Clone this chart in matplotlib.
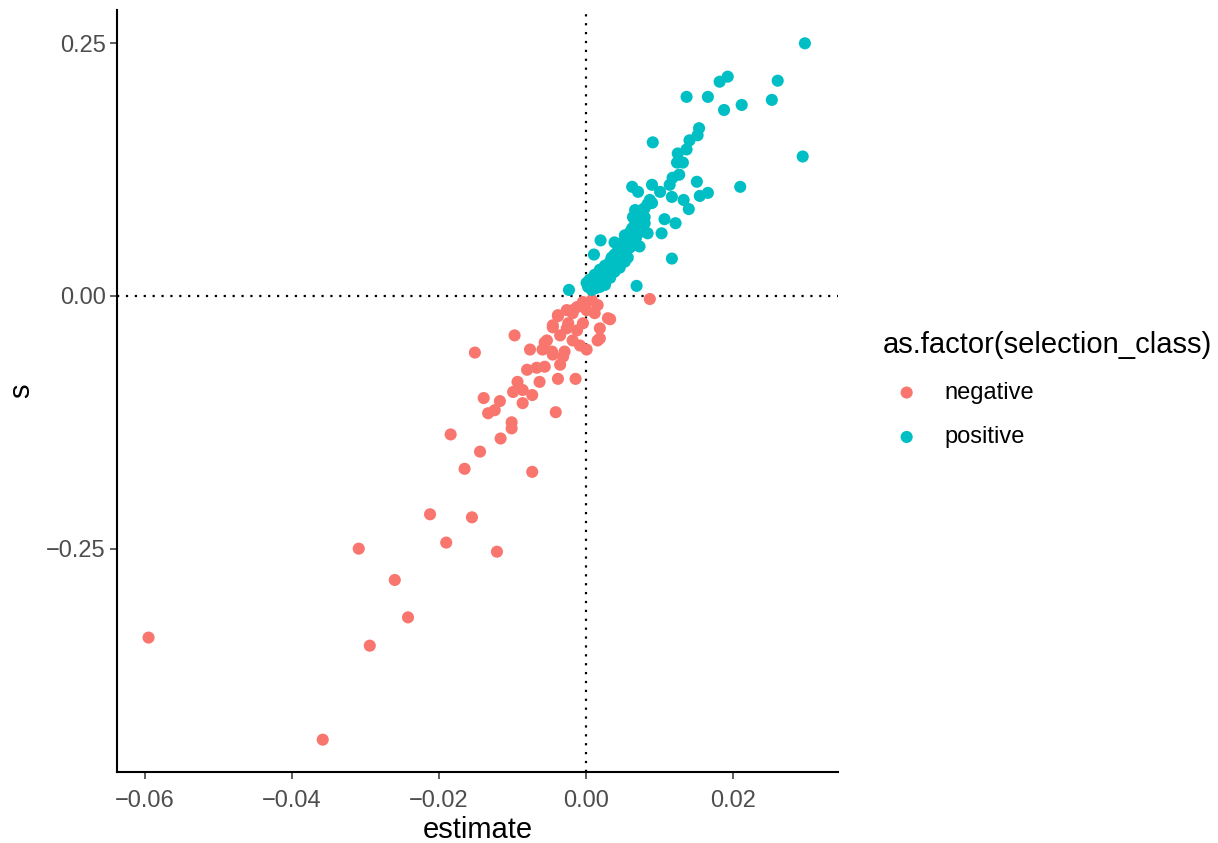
import numpy as np
import matplotlib
matplotlib.use("Agg")
import matplotlib.pyplot as plt

plt.rcParams['font.family'] = ['Liberation Sans', 'DejaVu Sans']

# negative class (estimate, s)
neg_estimate = [-0.0595, -0.0358, -0.0309, -0.0294, -0.0260, -0.0242, -0.0212, -0.0190, -0.0155, -0.0121,
                -0.0097, -0.0151, -0.0076, -0.0056, -0.0059, -0.0045, -0.0080, -0.0067, -0.0056, -0.0035,
                -0.0031, -0.0038, -0.0014, -0.0093, -0.0063, -0.0099, -0.0086, -0.0073, -0.0086, -0.0139,
                -0.0117, -0.0133, -0.0124, -0.0041, -0.0101, -0.0101, -0.0184, -0.0116, -0.0144, -0.0165,
                -0.0073, -0.0038, -0.0045, -0.0026, -0.0018, 0.0087, 0.0033, 0.0016,
                -0.0038, -0.0026, -0.0012, -0.0004, 0.0008, 0.0016, 0.0012, 0.0030, 0.0019, 0.0019,
                -0.0004, -0.0012, -0.0024, -0.0045, -0.0035, -0.0018, -0.0053, -0.0046, -0.0029, -0.0008,
                0.0001, -0.0018, 0.0001]
neg_s = [-0.338, -0.439, -0.250, -0.346, -0.281, -0.318, -0.216, -0.244, -0.219, -0.253,
         -0.039, -0.056, -0.053, -0.046, -0.053, -0.058, -0.073, -0.071, -0.070, -0.068,
         -0.060, -0.082, -0.082, -0.085, -0.085, -0.095, -0.093, -0.098, -0.106, -0.101,
         -0.104, -0.116, -0.113, -0.115, -0.125, -0.131, -0.137, -0.141, -0.154, -0.171,
         -0.174, -0.020, -0.031, -0.032, -0.017, -0.003, -0.023, -0.044,
         -0.019, -0.014, -0.011, -0.006, -0.004, -0.009, -0.017, -0.022, -0.032, -0.042,
         -0.027, -0.034, -0.027, -0.029, -0.039, -0.044, -0.044, -0.055, -0.055, -0.049,
         -0.053, -0.014, -0.014]

# positive class (estimate, s)
pos_estimate = [0.0182, 0.0193, 0.0261, 0.0137, 0.0166, 0.0253, 0.0188, 0.0212, 0.0295, 0.0298,
                0.0210, 0.0154, 0.0152, 0.0141, 0.0091, 0.0137, 0.0125, 0.0124, 0.0132, 0.0127,
                0.0118, 0.0114, 0.0063, 0.0071, 0.0090, 0.0101, 0.0151, 0.0166, 0.0155, 0.0117,
                0.0133, 0.0140, 0.0090, 0.0067, 0.0076, 0.0064, 0.0080, 0.0107, 0.0122, 0.0080,
                0.0067, 0.0084, 0.0103, 0.0053, 0.0020, 0.0039, 0.0064, 0.0073, 0.0011, 0.0117,
                0.0069, -0.0023, 0.0001,
                0.0005, 0.0012, 0.0019, 0.0026, 0.0033, 0.0035, 0.0039, 0.0044, 0.0046, 0.0049,
                0.0053, 0.0056, 0.0060, 0.0063, 0.0067, 0.0069, 0.0073, 0.0076, 0.0080, 0.0084,
                0.0087, 0.0016, 0.0023, 0.0030, 0.0037, 0.0044, 0.0049, 0.0054, 0.0060, 0.0064,
                0.0068, 0.0073, 0.0078, 0.0026, 0.0019, 0.0008, 0.0014, 0.0033, 0.0039, 0.0046,
                0.0053, 0.0057, 0.0003, 0.0046]
pos_s = [0.212, 0.217, 0.213, 0.197, 0.197, 0.194, 0.184, 0.189, 0.138, 0.250,
         0.108, 0.166, 0.159, 0.154, 0.152, 0.145, 0.141, 0.132, 0.132, 0.120,
         0.117, 0.110, 0.108, 0.103, 0.110, 0.103, 0.113, 0.102, 0.099, 0.098,
         0.095, 0.086, 0.092, 0.085, 0.085, 0.078, 0.078, 0.076, 0.072, 0.072,
         0.067, 0.062, 0.062, 0.060, 0.055, 0.053, 0.055, 0.049, 0.041, 0.037,
         0.010, 0.006, 0.013,
         0.016, 0.021, 0.026, 0.030, 0.034, 0.038, 0.041, 0.046, 0.050, 0.052,
         0.055, 0.059, 0.063, 0.067, 0.071, 0.075, 0.079, 0.083, 0.087, 0.091,
         0.095, 0.016, 0.020, 0.024, 0.028, 0.034, 0.038, 0.044, 0.048, 0.051,
         0.057, 0.063, 0.067, 0.011, 0.009, 0.006, 0.008, 0.018, 0.024, 0.028,
         0.034, 0.038, 0.009, 0.041]

x_ticks = [-0.06, -0.04, -0.02, 0.00, 0.02]
x_labels = ['\u22120.06', '\u22120.04', '\u22120.02', '0.00', '0.02']
y_ticks = [-0.25, 0.00, 0.25]
y_labels = ['\u22120.25', '0.00', '0.25']

fig = plt.figure(figsize=(12.18, 8.43), dpi=100)
ax = fig.add_axes([0.096, 0.0842, 0.592, 0.904])

# dotted reference lines at zero
ax.axhline(0, color='black', linestyle=(0, (1, 3)), linewidth=1.6, zorder=1)
ax.axvline(0, color='black', linestyle=(0, (1, 3)), linewidth=1.6, zorder=1)

ax.scatter(neg_estimate, neg_s, s=76, color='#F8766D', edgecolors='none', label='negative', zorder=2)
ax.scatter(pos_estimate, pos_s, s=76, color='#00BFC4', edgecolors='none', label='positive', zorder=2)

ax.set_xlim(-0.0638, 0.0343)
ax.set_ylim(-0.471, 0.283)
ax.set_xticks(x_ticks)
ax.set_xticklabels(x_labels)
ax.set_yticks(y_ticks)
ax.set_yticklabels(y_labels)
ax.tick_params(labelsize=17, labelcolor='#4D4D4D', length=5, width=1.1, color='#333333')
ax.tick_params(axis='x', pad=8)
ax.tick_params(axis='y', pad=3)

for side in ['top', 'right']:
    ax.spines[side].set_visible(False)
for side in ['left', 'bottom']:
    ax.spines[side].set_linewidth(1.5)
    ax.spines[side].set_color('black')

ax.set_xlabel('estimate', fontsize=21, labelpad=3)
ax.set_ylabel('s', fontsize=21, labelpad=8)

leg = ax.legend(title='as.factor(selection_class)', loc='upper left',
                bbox_to_anchor=(0.725, 0.607), bbox_transform=fig.transFigure,
                frameon=False, fontsize=17, title_fontsize=21,
                handlelength=2.0, handletextpad=0.6, labelspacing=0.95,
                borderpad=0, borderaxespad=0)
leg._legend_box.align = 'left'

fig.savefig('out.png', dpi=100)
